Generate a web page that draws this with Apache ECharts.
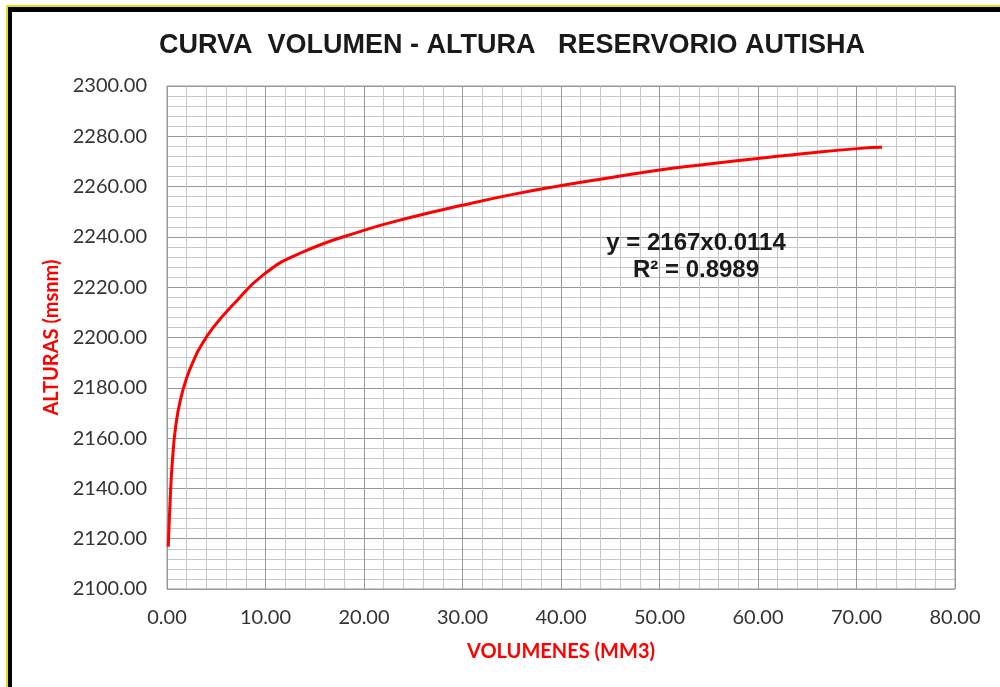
<!DOCTYPE html>
<html>
<head>
<meta charset="utf-8">
<script src="https://cdn.jsdelivr.net/npm/echarts@6/dist/echarts.min.js"></script>
<style>html,body{margin:0;padding:0;background:#fff;}#c{width:1000px;height:687px;}</style>
</head>
<body>
<div id="c"></div>
<script>
var volumes = [0.13, 0.37, 0.58, 0.91, 1.35, 2.0, 2.67, 3.35, 4.7, 6.7, 9.8, 13.5, 19.9, 25, 30.1, 35, 39.9, 44, 50, 55, 60.2, 65, 70.4, 72.6];
var alturas = [2116.8, 2139.4, 2152.6, 2165.5, 2175, 2184, 2190.5, 2196, 2204, 2213, 2225, 2233.5, 2242.5, 2248, 2252.7, 2256.8, 2260.3, 2262.9, 2266.6, 2269, 2271.3, 2273.3, 2275.2, 2275.6];
var titleText = 'CURVA  VOLUMEN - ALTURA   RESERVORIO AUTISHA';
var eqText = 'y = 2167x0.0114';
var r2Text = 'R² = 0.8989';
var xName = 'VOLUMENES (MM3)';
var yName = 'ALTURAS (msnm)';

var pts = volumes.map(function (v, i) { return [v, alturas[i]]; });
var chart = echarts.init(document.getElementById('c'));
var tickFont = {fontFamily: 'Lato', fontSize: 20, color: '#333'};
chart.setOption({
  backgroundColor: '#fff',
  animation: false,
  title: {
    text: titleText, left: 507, top: 27, textAlign: 'center',
    textStyle: {fontFamily: 'Liberation Sans', fontWeight: 'bold', fontSize: 27, color: '#1a1a1a'}
  },
  grid: {left: 167, right: 45, top: 86, bottom: 98},
  xAxis: {
    type: 'value', min: 0, max: 80, interval: 10,
    name: xName, nameLocation: 'middle', nameGap: 53,
    nameTextStyle: {color: '#ff0000', fontWeight: 'bold', fontSize: 20, fontFamily: 'Lato'},
    axisLine: {show: false}, axisTick: {show: false},
    axisLabel: Object.assign({margin: 19, formatter: function (v) { return v.toFixed(2); }}, tickFont),
    splitLine: {show: true, lineStyle: {color: '#999', width: 1}},
    minorTick: {show: false, splitNumber: 5},
    minorSplitLine: {show: true, lineStyle: {color: '#c8c8c8', width: 1}}
  },
  yAxis: {
    type: 'value', min: 2100, max: 2300, interval: 20,
    name: yName, nameLocation: 'middle', nameGap: 102, nameRotate: 90,
    nameTextStyle: {color: '#ff0000', fontWeight: 'bold', fontSize: 20, fontFamily: 'Lato'},
    axisLine: {show: false}, axisTick: {show: false},
    axisLabel: Object.assign({margin: 20, formatter: function (v) { return v.toFixed(2); }}, tickFont),
    splitLine: {show: true, lineStyle: {color: '#999', width: 1}},
    minorTick: {show: false, splitNumber: 5},
    minorSplitLine: {show: true, lineStyle: {color: '#c8c8c8', width: 1}}
  },
  series: [{
    type: 'line', data: pts, smooth: 0.5, showSymbol: false,
    lineStyle: {color: '#ff0000', width: 3}
  }],
  graphic: [
    {type: 'rect', shape: {x: 167, y: 86, width: 788, height: 503}, style: {fill: 'none', stroke: '#999', lineWidth: 1}, silent: true, z: 1},
    {type: 'text', x: 696, y: 243, z: 10, style: {text: eqText, textAlign: 'center', textVerticalAlign: 'middle', font: 'bold 24px "Liberation Sans"', fill: '#1a1a1a', stroke: 'none', lineWidth: 0}},
    {type: 'text', x: 696, y: 270, z: 10, style: {text: r2Text, textAlign: 'center', textVerticalAlign: 'middle', font: 'bold 24px "Liberation Sans"', fill: '#1a1a1a', stroke: 'none', lineWidth: 0}},
    {type: 'rect', shape: {x: 6, y: 5, width: 994, height: 2}, style: {fill: '#e8e000'}},
    {type: 'rect', shape: {x: 6, y: 5, width: 2, height: 682}, style: {fill: '#e8e000'}},
    {type: 'rect', shape: {x: 8, y: 7, width: 992, height: 5}, style: {fill: '#000'}},
    {type: 'rect', shape: {x: 8, y: 7, width: 4, height: 680}, style: {fill: '#000'}}
  ]
});
</script>
</body>
</html>
